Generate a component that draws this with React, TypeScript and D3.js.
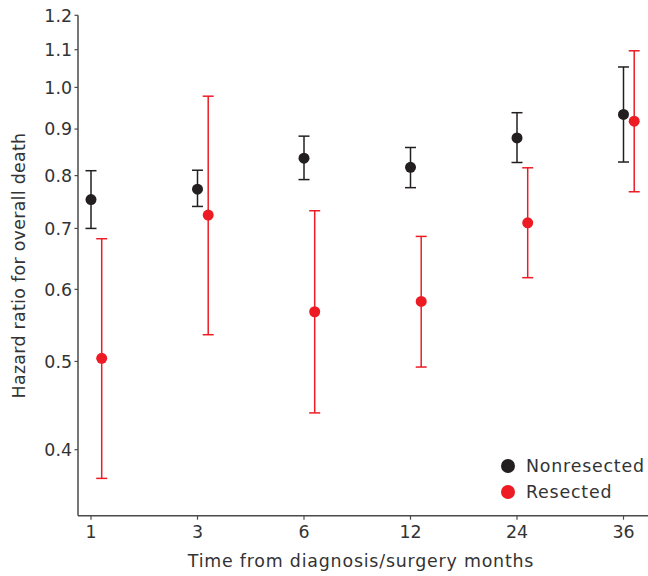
import React from 'react'
import * as d3 from 'd3'

const months = ['1', '3', '6', '12', '24', '36']

const nonresectedHR = [0.753, 0.773, 0.836, 0.817, 0.880, 0.934]
const nonresectedLow = [0.700, 0.740, 0.792, 0.776, 0.827, 0.828]
const nonresectedHigh = [0.810, 0.811, 0.884, 0.859, 0.938, 1.053]

const resectedHR = [0.504, 0.724, 0.567, 0.582, 0.710, 0.918]
const resectedLow = [0.372, 0.535, 0.439, 0.493, 0.618, 0.768]
const resectedHigh = [0.682, 0.978, 0.732, 0.686, 0.816, 1.097]

const yTicks = [0.4, 0.5, 0.6, 0.7, 0.8, 0.9, 1.0, 1.1, 1.2]

const W = 648
const H = 576
const FONT = '"DejaVu Sans", sans-serif'
const FS = 17.4
const BLACK = '#231f20'
const RED = '#ed1c24'
const AXIS = '#4a4a4a'
const TEXT = '#333'

const App = () => {
  const x = d3.scalePoint<string>().domain(months).range([91, 623.5])
  const y = d3.scaleLog().domain([0.3385, 1.2]).range([515.7, 15.3])
  const left = 78
  const bottom = y(0.3385)

  const series = [
    { name: 'Nonresected', color: BLACK, hr: nonresectedHR, lo: nonresectedLow, hi: nonresectedHigh, dx: 0 },
    { name: 'Resected', color: RED, hr: resectedHR, lo: resectedLow, hi: resectedHigh, dx: 10.7 },
  ]

  return (
    <svg width={W} height={H} style={{ position: 'absolute', left: 0, top: 0, background: '#fff' }}
      fontFamily={FONT}>
      {/* axes */}
      <line x1={left} x2={left} y1={y(1.2)} y2={bottom} stroke={AXIS} strokeWidth={1.5} />
      <line x1={left} x2={W} y1={bottom} y2={bottom} stroke={AXIS} strokeWidth={1.5} />
      {yTicks.map(t => (
        <g key={t} transform={`translate(0,${y(t)})`}>
          <line x1={left - 3.5} x2={left} stroke={AXIS} strokeWidth={1.2} />
          <text x={left - 6} dy="0.36em" textAnchor="end" fontSize={FS} fill={TEXT}>{t.toFixed(1)}</text>
        </g>
      ))}
      {months.map(m => (
        <g key={m} transform={`translate(${x(m)},${bottom})`}>
          <line y1={0} y2={4} stroke={AXIS} strokeWidth={1.2} />
          <text y={22.3} textAnchor="middle" fontSize={FS} fill={TEXT}>{m}</text>
        </g>
      ))}
      <text x={361} y={567} textAnchor="middle" fontSize={FS} fill={TEXT} letterSpacing={0.8}>
        Time from diagnosis/surgery months
      </text>
      <text transform={`translate(25,${(y(1.2) + bottom) / 2}) rotate(-90)`} textAnchor="middle" fontSize={FS}
        fill={TEXT} letterSpacing={0.3}>
        Hazard ratio for overall death
      </text>

      {/* error bars and points */}
      {series.map(s => (
        <g key={s.name}>
          {months.map((m, i) => {
            const cx = (x(m) as number) + s.dx
            return (
              <g key={m}>
                <line x1={cx} x2={cx} y1={y(s.hi[i])} y2={y(s.lo[i])} stroke={s.color} strokeWidth={1.5} />
                <line x1={cx - 5.5} x2={cx + 5.5} y1={y(s.hi[i])} y2={y(s.hi[i])} stroke={s.color} strokeWidth={1.5} />
                <line x1={cx - 5.5} x2={cx + 5.5} y1={y(s.lo[i])} y2={y(s.lo[i])} stroke={s.color} strokeWidth={1.5} />
                <circle cx={cx} cy={y(s.hr[i])} r={5.5} fill={s.color} />
              </g>
            )
          })}
        </g>
      ))}

      {/* legend */}
      {series.map((s, i) => (
        <g key={s.name} transform={`translate(508,${466 + i * 26})`}>
          <circle r={7} fill={s.color} />
          <text x={18} dy="0.36em" fontSize={FS} fill={TEXT} letterSpacing={0.8}>{s.name}</text>
        </g>
      ))}
    </svg>
  )
}

export default App
